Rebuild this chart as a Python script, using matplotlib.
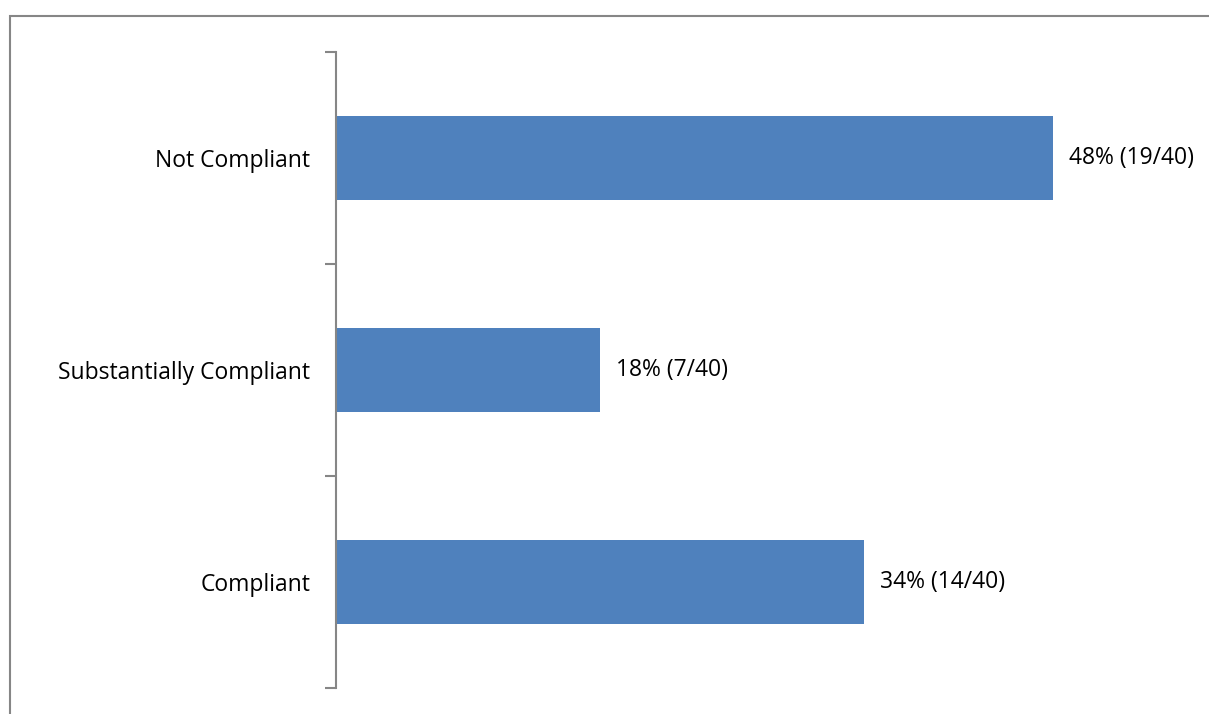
import matplotlib
matplotlib.use("Agg")
import matplotlib.pyplot as plt
from matplotlib.patches import Rectangle

categories = ["Compliant", "Substantially Compliant", "Not Compliant"]
counts = [14, 7, 19]
total = 40
pct_labels = ["34%", "18%", "48%"]

plt.rcParams['font.family'] = ['Open Sans', 'DejaVu Sans']

W, H = 1209, 714
fig = plt.figure(figsize=(W / 100, H / 100), dpi=100)

# outer chart frame, only top and left edges fall inside the image
fig.patches.append(Rectangle((10 / W, -0.1), 1.2, 1 - 16 / H + 0.1,
                             transform=fig.transFigure, fill=False,
                             edgecolor="#868686", linewidth=1.5))

ax = fig.add_axes([336 / W, 1 - 688 / H, 754.5 / W, 636 / H])
shares = [c / total for c in counts]
ax.barh(range(len(categories)), shares, height=0.4, color="#4f81bd")

for i, (s, c, p) in enumerate(zip(shares, counts, pct_labels)):
    ax.annotate(f"{p} ({c}/{total})", (s, i), xytext=(16, 0),
                textcoords="offset pixels", va="center", ha="left",
                fontsize=16.5, color="black")

ax.set_xlim(0, 0.5)
ax.set_ylim(-0.5, 2.5)
ax.set_yticks([-0.5, 0.5, 1.5, 2.5])
ax.set_yticklabels([])
ax.set_yticks(range(len(categories)), minor=True)
ax.set_yticklabels(categories, minor=True, fontsize=16.5)
ax.tick_params(axis="y", which="minor", length=0, pad=18.5)
ax.tick_params(axis="y", which="major", length=8, width=1.5, color="#868686")
ax.set_xticks([])
for side in ["top", "right", "bottom"]:
    ax.spines[side].set_visible(False)
ax.spines["left"].set_color("#868686")
ax.spines["left"].set_linewidth(1.5)
ax.patch.set_alpha(0)

fig.savefig("out.png", dpi=100)
